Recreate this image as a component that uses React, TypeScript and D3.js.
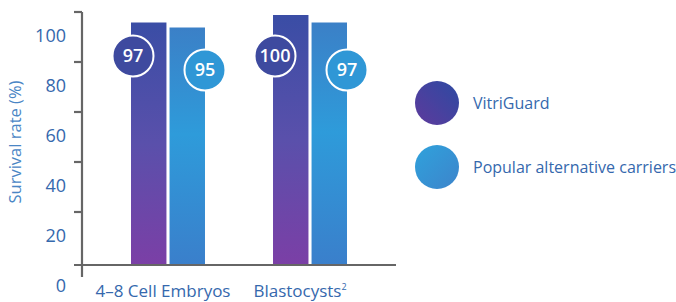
import React from 'react';
import * as d3 from 'd3';

// data
const categories = ['4-8 Cell Embryos', 'Blastocysts'];
const series = ['VitriGuard', 'Popular alternative carriers'];
const vitriGuard = [97, 100];
const alternatives = [95, 97];
const yTicks = [0, 20, 40, 60, 80, 100];

const width = 676,
    height = 302;

const gradStops = [
    [['0%', '#3a4da5'], ['50%', '#5a50ab'], ['100%', '#7b3fa6']],
    [['0%', '#3b80c7'], ['45%', '#2e9bda'], ['100%', '#3a7fcb']],
];
const badgeFill = ['#3e4a9f', '#2f97d6'];
const textBlue = '#3568ad';
const axisGray = '#666';

export default function App() {
    const values = [vitriGuard, alternatives];

    const x0 = d3.scaleBand().domain(categories).range([82, 396]).paddingInner(0.479).paddingOuter(0.345);
    const x1 = d3.scaleBand().domain(series).range([0, x0.bandwidth()]).paddingInner(0.08);
    const y = d3.scaleLinear().domain([0, 100]).range([265, 15]);

    // badge anchors (value positions on the y scale where the round labels sit)
    const badgeAt = [83.6, 78];

    return (
        <svg width={width} height={height} style={{ position: 'absolute', left: 0, top: 0 }}
            fontFamily="'Open Sans', sans-serif">
            <defs>
                {gradStops.map((stops, i) => (
                    <linearGradient key={i} id={'g' + i} x1="0" y1="0" x2="0" y2="1">
                        {stops.map(([o, c]) => <stop key={o} offset={o} stopColor={c} />)}
                    </linearGradient>
                ))}
                <linearGradient id="l0" x1="1" y1="0" x2="0" y2="1">
                    <stop offset="0%" stopColor="#2d4aa2" />
                    <stop offset="100%" stopColor="#5e3a9c" />
                </linearGradient>
                <linearGradient id="l1" x1="0" y1="0" x2="1" y2="1">
                    <stop offset="0%" stopColor="#2fa2dc" />
                    <stop offset="100%" stopColor="#3d84cb" />
                </linearGradient>
            </defs>

            {/* y axis label */}
            <text transform={`translate(21,142) rotate(-90)`} textAnchor="middle" fontSize={16.5}
                fill="#4a86c5">Survival rate (%)</text>

            {/* y tick labels (sit below their tick marks, like the original) */}
            {yTicks.map(t => (
                <text key={t} x={66} y={y(t) + 21} dy="0.35em" textAnchor="end" fontSize={18}
                    fill={textBlue}>{t}</text>
            ))}

            {/* bars */}
            {categories.map((c, ci) => (
                <g key={c} transform={`translate(${x0(c)},0)`}>
                    {series.map((s, si) => (
                        <rect key={s} x={x1(s)} y={y(values[si][ci])} width={x1.bandwidth()}
                            height={y(0) - y(values[si][ci])} fill={`url(#g${si})`} />
                    ))}
                </g>
            ))}

            {/* axes */}
            <line x1={82} x2={82} y1={12} y2={277} stroke={axisGray} strokeWidth={2.2} />
            <line x1={74} x2={x0.range()[1]} y1={y(0)} y2={y(0)} stroke={axisGray} strokeWidth={2.2} />
            {yTicks.filter(t => t > 0).map(t => (
                <line key={t} x1={74} x2={82} y1={y(t) - 3} y2={y(t) - 3} stroke={axisGray} strokeWidth={2.2} />
            ))}

            {/* value badges */}
            {categories.map((c, ci) => (
                <g key={c}>
                    {series.map((s, si) => {
                        const cx = (x0(c) as number) + (x1(s) as number) + (si === 0 ? 2 : x1.bandwidth());
                        const cy = y(badgeAt[si]);
                        return (
                            <g key={s}>
                                <circle cx={cx} cy={cy} r={20.5} fill={badgeFill[si]} stroke="#fff" strokeWidth={2} />
                                <text x={cx} y={cy} dy="0.36em" textAnchor="middle" fontSize={18}
                                    fontWeight={600} fill="#fff">{values[si][ci]}</text>
                            </g>
                        );
                    })}
                </g>
            ))}

            {/* category labels */}
            {categories.map((c, ci) => (
                <text key={c} x={(x0(c) as number) + x0.bandwidth() / 2 - (ci === 0 ? 5 : 10)} y={297}
                    textAnchor="middle" fontSize={17} fill={textBlue}>
                    {c.replace('-', '\u2013')}
                    {ci === 1 && <tspan fontSize={9} dy={-7}>2</tspan>}
                </text>
            ))}

            {/* legend */}
            {series.map((s, si) => (
                <g key={s} transform={`translate(437,${103 + si * 64})`}>
                    <circle r={22} fill={`url(#l${si})`} />
                    <text x={36} dy="0.35em" fontSize={16} fill={textBlue}>{s}</text>
                </g>
            ))}
        </svg>
    );
}
